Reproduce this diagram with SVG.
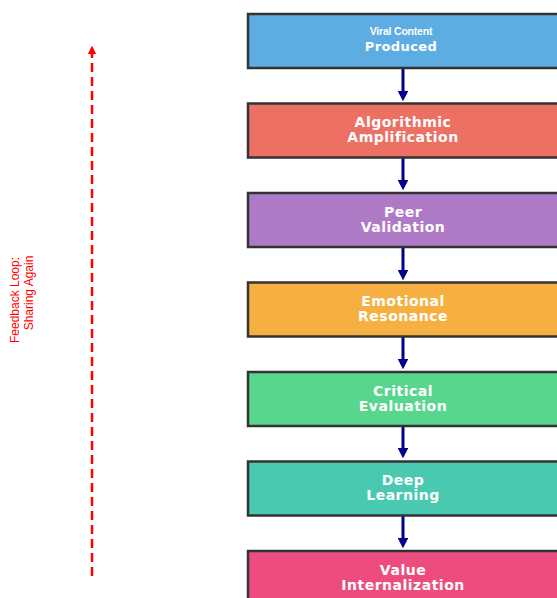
<svg xmlns="http://www.w3.org/2000/svg" width="557" height="598" viewBox="0 0 557 598">
<defs>
<style>
.box{stroke:#333;stroke-width:2.5}
.t{font-family:"DejaVu Sans",sans-serif;font-weight:bold;font-size:14px;fill:#fff;text-anchor:middle;letter-spacing:0.5px}
.conn{stroke:#00008B;stroke-width:3;fill:none}
.fb{font-family:"Liberation Sans",Arial,sans-serif;font-size:12px;fill:#ff0000;text-anchor:middle}
</style>
<marker id="ah" viewBox="0 0 10 10" refX="5" refY="5" markerWidth="3.6" markerHeight="3.6" orient="auto"><path d="M0,0 L10,5 L0,10 z" fill="#00008B"/></marker>
<marker id="rh" viewBox="0 0 10 10" refX="5" refY="5" markerWidth="3.5" markerHeight="3.5" orient="auto"><path d="M0,0 L10,5 L0,10 z" fill="#ff0000"/></marker>
</defs>
<rect width="557" height="598" fill="#fff"/>
<g id="connectors">
<line class="conn" x1="403" y1="69" x2="403" y2="96" marker-end="url(#ah)"/>
<line class="conn" x1="403" y1="158" x2="403" y2="185" marker-end="url(#ah)"/>
<line class="conn" x1="403" y1="248" x2="403" y2="275" marker-end="url(#ah)"/>
<line class="conn" x1="403" y1="337" x2="403" y2="364" marker-end="url(#ah)"/>
<line class="conn" x1="403" y1="426" x2="403" y2="453" marker-end="url(#ah)"/>
<line class="conn" x1="403" y1="516" x2="403" y2="543" marker-end="url(#ah)"/>
<line x1="92" y1="576" x2="92" y2="50" stroke="#ff0000" stroke-width="2.5" stroke-dasharray="9,5" marker-end="url(#rh)"/>
</g>
<g id="feedback-label">
<text class="fb" transform="translate(19,300) rotate(-90)">Feedback Loop:</text>
<text class="fb" transform="translate(33,293) rotate(-90)">Sharing Again</text>
</g>
<g id="n1">
<rect class="box" x="248" y="14" width="312" height="54" fill="#5DADE2"/>
<text x="401" y="35" font-family="Liberation Sans,Arial,sans-serif" font-weight="bold" font-size="10.5" fill="#fff" text-anchor="middle" letter-spacing="-0.2">Viral Content</text>
<text x="401" y="51" font-family="DejaVu Sans,sans-serif" font-weight="bold" font-size="13" fill="#fff" text-anchor="middle" letter-spacing="0.4">Produced</text>
</g>
<g id="n2">
<rect class="box" x="248" y="103.5" width="312" height="54" fill="#EC7063"/>
<text class="t" x="403" y="127">Algorithmic</text>
<text class="t" x="403" y="142">Amplification</text>
</g>
<g id="n3">
<rect class="box" x="248" y="193" width="312" height="54" fill="#AF7AC5"/>
<text class="t" x="403" y="216.5">Peer</text>
<text class="t" x="403" y="231.5">Validation</text>
</g>
<g id="n4">
<rect class="box" x="248" y="282.5" width="312" height="54" fill="#F5B041"/>
<text class="t" x="403" y="306">Emotional</text>
<text class="t" x="403" y="321">Resonance</text>
</g>
<g id="n5">
<rect class="box" x="248" y="372" width="312" height="54" fill="#58D68D"/>
<text class="t" x="403" y="395.5">Critical</text>
<text class="t" x="403" y="410.5">Evaluation</text>
</g>
<g id="n6">
<rect class="box" x="248" y="461.5" width="312" height="54" fill="#48C9B0"/>
<text class="t" x="403" y="485">Deep</text>
<text class="t" x="403" y="500">Learning</text>
</g>
<g id="n7">
<rect class="box" x="248" y="551" width="312" height="54" fill="#EC4C7E"/>
<text class="t" x="403" y="574.5">Value</text>
<text class="t" x="403" y="589.5">Internalization</text>
</g>
</svg>
